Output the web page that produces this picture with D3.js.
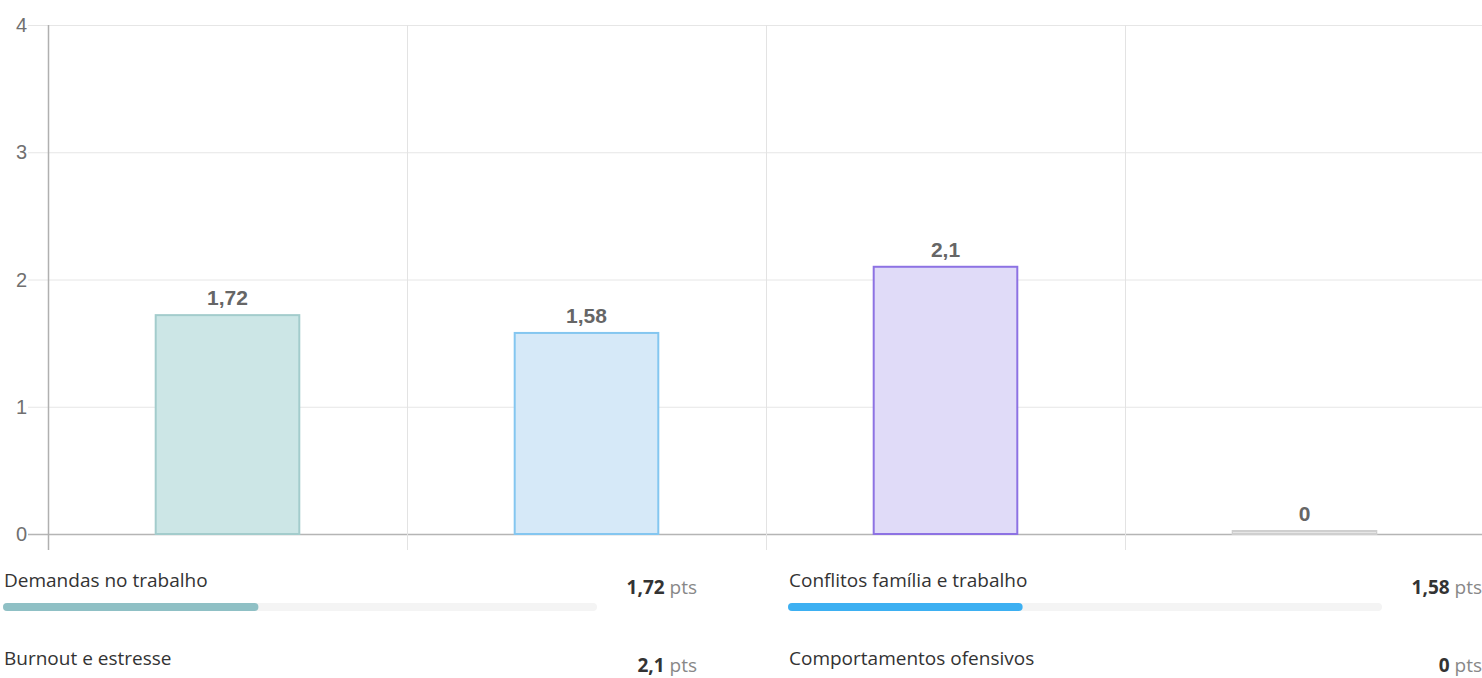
<!DOCTYPE html>
<html lang="pt">
<head>
    <meta charset="UTF-8">
    <title>Pontuação por dimensão</title>
    <script src="https://d3js.org/d3.v7.min.js"></script>
    <style>
        body { margin: 0; background: #fff; overflow: hidden; }
        svg { display: block; }
    </style>
</head>
<body>
    <svg id="chart" width="1482" height="678"></svg>

    <script>
        // Data
        const categories = ["Demandas no trabalho", "Conflitos família e trabalho", "Burnout e estresse", "Comportamentos ofensivos"];
        const values = [1.72, 1.58, 2.1, 0];
        const yTicks = [0, 1, 2, 3, 4];
        const barFills = ["#cce6e6", "#d6e9f8", "#e0dbf8", "#e6e6e6"];
        const barStrokes = ["#a3cccc", "#84c6f0", "#8d72e3", "#cfcfcf"];
        const legendColors = ["#8fc0c5", "#3db0f2", "#9d86e8", "#cccccc"];

        const width = 1482, height = 678;
        const margin = { top: 25, left: 48 };
        const plotBottom = 534;
        const bandW = 359;

        const svg = d3.select("#chart");
        const fmt = v => String(v).replace(".", ",");

        const x = d3.scaleBand()
            .domain(categories)
            .range([margin.left, margin.left + bandW * categories.length])
            .paddingInner(0)
            .paddingOuter(0);

        const y = d3.scaleLinear()
            .domain([0, 4])
            .range([plotBottom, margin.top]);

        // Horizontal grid lines
        svg.append("g")
            .selectAll("line")
            .data(yTicks)
            .enter().append("line")
            .attr("x1", 28).attr("x2", width)
            .attr("y1", d => y(d) + 0.5).attr("y2", d => y(d) + 0.5)
            .attr("stroke", d => d === 0 ? "#b5b5b5" : "#e6e6e6")
            .attr("stroke-width", d => d === 0 ? 1.5 : 1);

        // Vertical grid lines at band boundaries
        svg.append("g")
            .selectAll("line")
            .data(categories.slice(1))
            .enter().append("line")
            .attr("x1", d => x(d) + 0.5).attr("x2", d => x(d) + 0.5)
            .attr("y1", margin.top).attr("y2", plotBottom + 16)
            .attr("stroke", "#e3e3e3");

        // Y axis line
        svg.append("line")
            .attr("x1", margin.left + 0.5).attr("x2", margin.left + 0.5)
            .attr("y1", margin.top).attr("y2", plotBottom + 16)
            .attr("stroke", "#b0b0b0")
            .attr("stroke-width", 1.5);

        // Y tick labels
        svg.append("g")
            .selectAll("text")
            .data(yTicks)
            .enter().append("text")
            .attr("x", 27)
            .attr("y", d => y(d) + 7)
            .attr("text-anchor", "end")
            .attr("font-family", "Liberation Sans, Arial, sans-serif")
            .attr("font-size", 20)
            .attr("fill", "#707070")
            .text(d => d);

        // Bars
        const barW = bandW * 0.4;
        svg.append("g")
            .selectAll("rect")
            .data(values)
            .enter().append("rect")
            .attr("x", (d, i) => x(categories[i]) + (bandW - barW) / 2)
            .attr("y", d => Math.min(y(d), plotBottom - 3))
            .attr("width", barW)
            .attr("height", d => Math.max(plotBottom - y(d), 3))
            .attr("fill", (d, i) => barFills[i])
            .attr("stroke", (d, i) => barStrokes[i])
            .attr("stroke-width", 2);

        // Value labels
        svg.append("g")
            .selectAll("text")
            .data(values)
            .enter().append("text")
            .attr("x", (d, i) => x(categories[i]) + bandW / 2)
            .attr("y", d => Math.min(y(d), plotBottom - 3) - 10)
            .attr("text-anchor", "middle")
            .attr("font-family", "Liberation Sans, Arial, sans-serif")
            .attr("font-size", 21)
            .attr("font-weight", "bold")
            .attr("fill", "#666")
            .text(d => fmt(d));

        // Legend with progress bars
        const colX = [3, 788];
        const trackW = 594;
        const rowY = [587, 665];
        const pct = d3.scaleLinear().domain([0, 4]).range([0, trackW]);

        const items = svg.append("g")
            .selectAll("g")
            .data(categories)
            .enter().append("g")
            .attr("transform", (d, i) => `translate(${colX[i % 2]},${rowY[Math.floor(i / 2)]})`);

        items.append("text")
            .attr("x", 1)
            .attr("y", 0)
            .attr("font-family", "Open Sans, sans-serif")
            .attr("font-size", 19)
            .attr("fill", "#333")
            .text(d => d);

        items.append("rect")
            .attr("x", 0).attr("y", 16)
            .attr("width", trackW).attr("height", 8)
            .attr("rx", 4)
            .attr("fill", "#f4f4f4");

        items.append("rect")
            .attr("x", 0).attr("y", 16)
            .attr("width", (d, i) => pct(values[i]))
            .attr("height", 8)
            .attr("rx", 4)
            .attr("fill", (d, i) => legendColors[i]);

        const val = items.append("text")
            .attr("x", 694)
            .attr("y", 7)
            .attr("text-anchor", "end")
            .attr("font-family", "Open Sans, sans-serif")
            .attr("font-size", 19);
        val.append("tspan")
            .attr("font-weight", "bold")
            .attr("fill", "#333")
            .text((d, i) => fmt(values[i]));
        val.append("tspan")
            .attr("fill", "#888")
            .text(" pts");
    </script>
</body>
</html>
